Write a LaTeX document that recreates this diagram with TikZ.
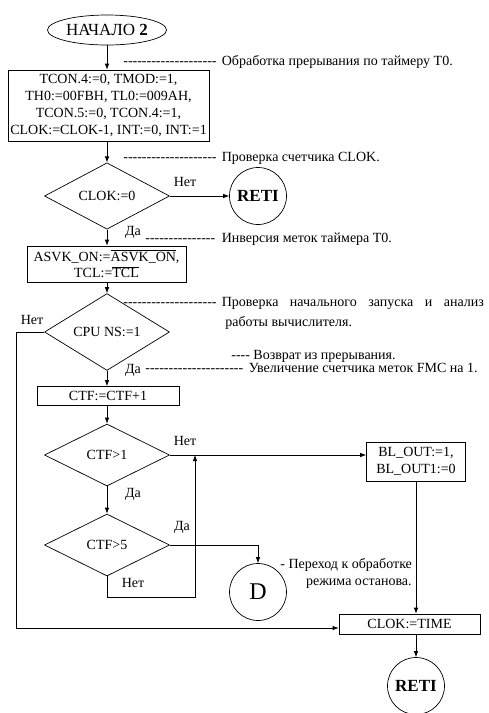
\documentclass[tikz,border=0pt]{standalone}
\usepackage{fontspec}
\setmainfont{Liberation Serif}
\usetikzlibrary{shapes.geometric,arrows.meta}
\newcommand{\dashfill}[1]{\hbox to #1{\leaders\hbox{-}\hfill}}
\begin{document}
\begin{tikzpicture}[x=1pt,y=-1pt,
  font=\fontsize{14}{16.8}\selectfont,
  line width=0.7pt,
  box/.style={draw, inner sep=0pt, align=center},
  dec/.style={diamond, draw, minimum width=125pt, minimum height=62pt, inner sep=0pt},
  term/.style={circle, draw, minimum size=57pt, inner sep=0pt},
  arr/.style={-{Latex[length=6pt,width=4.5pt]}},
  lbl/.style={inner sep=0pt},
  cmt/.style={inner sep=0pt, anchor=west}]
\useasboundingbox (0,0) rectangle (489,713);

% nodes
\node[ellipse, draw, minimum width=119pt, minimum height=30pt, inner sep=0pt, font=\fontsize{17}{19}\selectfont] (start) at (107,30) {НАЧАЛО \textbf{2}};
\node[box, minimum width=201pt, minimum height=71pt] (b1) at (108.5,105.5)
  {TCON.4:=0, TMOD:=1,\\TH0:=00FBH, TL0:=009AH,\\TCON.5:=0, TCON.4:=1,\\CLOK:=CLOK-1, INT:=0, INT:=1};
\node[dec] (d1) at (107,196) {CLOK:=0};
\node[term, font=\fontsize{17}{19}\selectfont\bfseries] (r1) at (258,196) {RETI};
\node[box, minimum width=159pt, minimum height=36pt] (b2) at (106.5,264)
  {ASVK\_ON:=$\overline{\mbox{ASVK\_ON}}$,\\TCL:=$\overline{\mbox{TCL}}$};
\node[dec] (d2) at (107,332) {CPU NS:=1};
\node[box, minimum width=142pt, minimum height=19pt] (b3) at (108,396) {CTF:=CTF+1};
\node[dec] (d3) at (107,455) {CTF>1};
\node[box, minimum width=99pt, minimum height=39pt] (b4) at (416,461.5) {BL\_OUT:=1,\\BL\_OUT1:=0};
\node[dec] (d4) at (107,545) {CTF>5};
\node[term, font=\fontsize{24}{26}\selectfont] (dd) at (258,592) {D};
\node[box, minimum width=141pt, minimum height=20pt] (b5) at (409.5,624) {CLOK:=TIME};
\node[term, font=\fontsize{17}{19}\selectfont\bfseries] (r2) at (416,686) {RETI};
\coordinate (c1) at (16,628);
\coordinate (c2) at (195,597);

% connectors
\draw[arr] (start.south) -- (start.south |- b1.north);
\draw[arr] (d1.north |- b1.south) -- (d1.north);
\draw[arr] (d1.east) -- (r1.west);
\draw[arr] (d1.south) -- (d1.south |- b2.north);
\draw[arr] (d2.north |- b2.south) -- (d2.north);
\draw[arr] (d2.south) -- (d2.south |- b3.north);
\draw[arr] (d2.west) -| (c1) -- (c1 -| b5.west);
\draw[arr] (d3.north |- b3.south) -- (d3.north);
\draw[arr] (d3.east) -- (d3.east -| b4.west);
\draw[arr] (d3.south) -- (d4.north);
\draw[arr] (d4.east) -| (dd.north);
\draw[arr] (d4.south) |- (c2) -- (c2 |- d3.east);
\draw[arr] (b4.south) -- (b4.south |- b5.north);
\draw[arr] (b5.south -| r2.north) -- (r2.north);

% branch labels
\node[lbl] (l1) at (185,182) {Нет};
\node[lbl] (l2) at (133,232) {Да};
\node[lbl] (l3) at (32,320) {Нет};
\node[lbl] (l4) at (133,370) {Да};
\node[lbl] (l5) at (185,441) {Нет};
\node[lbl] (l6) at (133,494) {Да};
\node[lbl] (l7) at (182,527) {Да};
\node[lbl] (l8) at (133,583) {Нет};

% comments
\node[cmt] (k1) at (123,62) {\dashfill{95pt}\ Обработка прерывания по таймеру T0.};
\node[cmt] (k2) at (123,158) {\dashfill{95pt}\ Проверка счетчика CLOK.};
\node[cmt] (k3) at (145,239) {\dashfill{73pt}\ Инверсия меток таймера T0.};
\node[cmt] (k4) at (123,303) {\dashfill{95pt}\ \hbox to 262pt{Проверка\hfill начального\hfill запуска\hfill и\hfill анализ}};
\node[cmt] (k4b) at (225,323) {работы вычислителя.};
\node[cmt] (k5) at (231,356) {{-}{-}{-}{-} Возврат из прерывания.};
\node[cmt] (k6) at (145,368) {\dashfill{100pt}\ Увеличение счетчика меток FMC на 1.};
\node[cmt] (k7) at (280,565) {- Переход к обработке};
\node[inner sep=0pt, anchor=east] (k7b) at (412,584) {режима останова.};
\end{tikzpicture}
\end{document}
